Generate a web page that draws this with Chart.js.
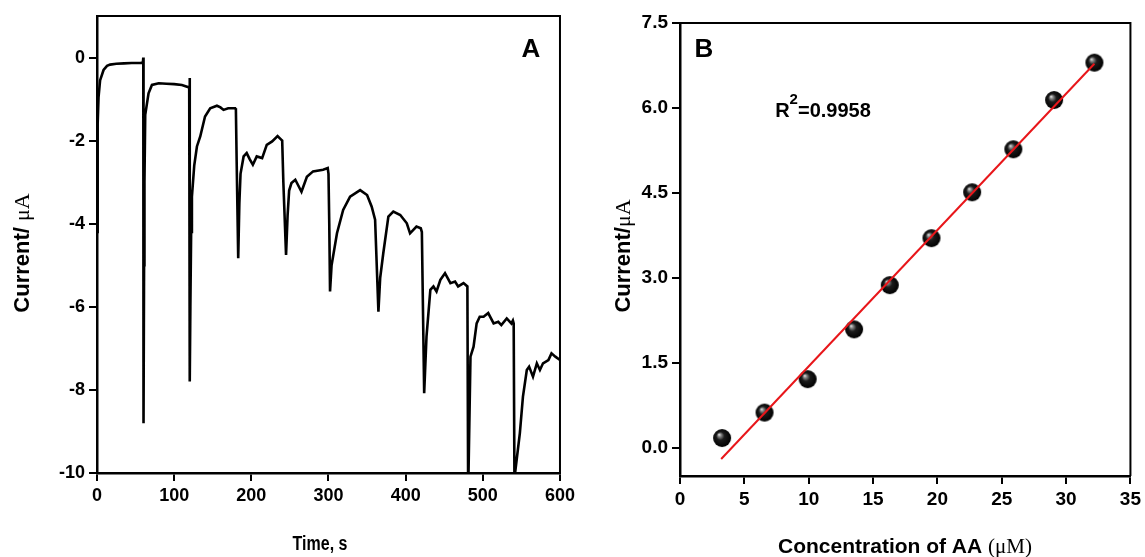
<!DOCTYPE html>
<html>
<head>
<meta charset="utf-8">
<script src="https://cdn.jsdelivr.net/npm/chart.js@4.4.1/dist/chart.umd.min.js"></script>
<style>
    html, body { margin: 0; padding: 0; background: #fff; overflow: hidden; }
    #wrap { position: relative; width: 1145px; height: 557px; overflow: hidden; }
    #chartA { position: absolute; left: 0; top: 0; }
    #chartB { position: absolute; left: 573px; top: 0; }
</style>
</head>
<body>
<div id="wrap">
    <canvas id="chartA" width="579" height="557"></canvas>
    <canvas id="chartB" width="572" height="557"></canvas>
</div>
<script>
// ===== Panel A: current vs time =====
const timeA = [0, 0.5, 1.2, 2, 4, 8.5, 13, 17, 25, 35, 45, 56, 59.5,
    60, 60.3, 61, 61.5, 62.5, 64, 66.8, 71.2, 80, 90, 100, 110, 119.5,
    120, 120.4, 121, 122, 123, 126, 129.5, 133.8, 140, 146.7, 155.4, 160, 164, 170, 179,
    180, 181, 183, 184.5, 186, 190, 194, 198, 202, 207, 214, 220, 227, 234, 239,
    240, 241.5, 245, 247, 249, 252, 257, 265, 272, 280, 293, 299,
    300, 301, 302, 304, 311, 319, 328, 341, 350, 356, 360.4,
    364.7, 367, 371, 377.6, 384, 393, 401.5, 405.7, 414, 419.6,
    421, 424, 427, 432, 436, 440, 445, 451, 458, 464, 468, 475, 480,
    481, 482, 484, 488, 492, 496, 501, 507, 514, 520, 524, 531, 537, 539,
    540, 541, 542, 548, 552, 557, 560, 565, 570, 574, 578, 585, 589, 594, 600];
const currentA = [-4.2, -2.6, -1.6, -0.95, -0.55, -0.3, -0.2, -0.17, -0.15, -0.14, -0.13, -0.13, -0.12,
    0.0, -8.8, -5.0, -3.0, -1.38, -1.2, -0.86, -0.66, -0.62, -0.63, -0.64, -0.66, -0.72,
    -0.49, -7.8, -6.0, -4.2, -3.35, -2.6, -2.14, -1.9, -1.42, -1.22, -1.16, -1.2, -1.26, -1.22, -1.22,
    -1.25, -2.5, -4.83, -3.5, -2.8, -2.38, -2.3, -2.45, -2.58, -2.38, -2.42, -2.1, -2.02, -1.89, -1.98,
    -2.0, -3.0, -4.75, -3.8, -3.2, -3.02, -2.94, -3.23, -2.87, -2.74, -2.7, -2.66,
    -2.8, -4.0, -5.63, -5.0, -4.23, -3.67, -3.35, -3.19, -3.31, -3.59, -3.9,
    -6.12, -5.3, -4.71, -3.83, -3.71, -3.79, -3.99, -4.23, -4.07, -4.11,
    -4.2, -8.08, -6.72, -5.59, -5.51, -5.63, -5.35, -5.19, -5.43, -5.39, -5.51, -5.43, -5.51,
    -10.5, -10.5, -7.2, -6.96, -6.4, -6.24, -6.24, -6.15, -6.4, -6.36, -6.44, -6.28, -6.4, -6.33,
    -6.4, -10.2, -9.97, -9.04, -8.16, -7.52, -7.44, -7.68, -7.36, -7.52, -7.36, -7.28, -7.12, -7.2, -7.28];
const xTicksA = [0, 100, 200, 300, 400, 500, 600];
const yTicksA = [0, -2, -4, -6, -8, -10];

// ===== Panel B: calibration =====
const concB = [3.27, 6.57, 9.92, 13.53, 16.3, 19.54, 22.7, 25.9, 29.07, 32.2];
const currB = [0.17, 0.62, 1.21, 2.09, 2.87, 3.70, 4.51, 5.27, 6.14, 6.80];
const fitX = [3.2, 32.2];
const fitY = [-0.2, 6.78];
const xTicksB = [0, 5, 10, 15, 20, 25, 30, 35];
const yTicksB = [0, 1.5, 3, 4.5, 6, 7.5];

const SANS = "'Liberation Sans', Arial, sans-serif";
const SERIF = "'Liberation Serif', 'Times New Roman', serif";

// sphere marker
function makeBall(r) {
    const c = document.createElement("canvas");
    c.width = r * 2 + 2;
    c.height = r * 2 + 2;
    const g = c.getContext("2d");
    const cx = r + 1, cy = r + 1;
    const grad = g.createRadialGradient(cx - r * 0.35, cy - r * 0.4, 0, cx, cy, r);
    grad.addColorStop(0, "#f4f4f4");
    grad.addColorStop(0.18, "#8a8a8a");
    grad.addColorStop(0.45, "#1c1c1c");
    grad.addColorStop(1, "#000");
    g.fillStyle = grad;
    g.beginPath();
    g.arc(cx, cy, r, 0, Math.PI * 2);
    g.fill();
    return c;
}

// draw a run of text pieces with different fonts (sx squeezes it sideways)
function drawParts(ctx, parts, x, y, rotate, sx) {
    ctx.save();
    ctx.translate(x, y);
    if (rotate) ctx.rotate(-Math.PI / 2);
    if (sx) ctx.scale(sx, 1);
    let total = 0;
    parts.forEach(p => { ctx.font = p.font; total += ctx.measureText(p.text).width; });
    let pos = -total / 2;
    ctx.fillStyle = "#000";
    ctx.textBaseline = "alphabetic";
    ctx.textAlign = "left";
    parts.forEach(p => {
        ctx.font = p.font;
        ctx.fillText(p.text, pos, p.dy || 0);
        pos += ctx.measureText(p.text).width;
    });
    ctx.restore();
}

const framePlugin = {
    id: "frame",
    afterDraw(chart, args, opts) {
        const ctx = chart.ctx;
        const a = chart.chartArea;
        ctx.save();
        ctx.strokeStyle = "#000";
        ctx.lineWidth = 2;
        ctx.beginPath();
        ctx.moveTo(a.left, a.top);
        ctx.lineTo(a.right, a.top);
        ctx.lineTo(a.right, a.bottom);
        ctx.stroke();
        ctx.restore();
        (opts.texts || []).forEach(t => drawParts(ctx, t.parts, t.x, t.y, t.rotate, t.sx));
    }
};

function axis(min, max, ticks, fmt, size, fontSize) {
    return {
        type: "linear",
        min: min,
        max: max,
        afterBuildTicks: s => { s.ticks = ticks.map(v => ({ value: v })); },
        afterFit: s => {
            if (s.isHorizontal()) s.height = size; else s.width = size;
        },
        border: { display: true, color: "#000", width: 2.5 },
        grid: { drawOnChartArea: false, drawTicks: true, tickLength: 8, color: "#000", lineWidth: 2 },
        ticks: {
            color: "#000",
            padding: 4,
            font: { family: SANS, size: fontSize, weight: "bold" },
            callback: fmt
        }
    };
}

Chart.register(framePlugin);

new Chart(document.getElementById("chartA"), {
    type: "scatter",
    data: {
        datasets: [{
            data: timeA.map((t, i) => ({ x: t, y: currentA[i] })),
            showLine: true,
            borderColor: "#000",
            borderWidth: 2.6,
            pointRadius: 0,
            tension: 0
        }]
    },
    options: {
        responsive: false,
        animation: false,
        layout: { padding: { top: 16, right: 19, left: 0, bottom: 0 } },
        plugins: {
            legend: { display: false },
            tooltip: { enabled: false },
            frame: {
                texts: [
                    { parts: [{ text: "A", font: "bold 26px " + SANS }], x: 531, y: 57 },
                    { parts: [{ text: "Time, s", font: "bold 20px " + SANS }], x: 320, y: 550, sx: 0.8 },
                    { parts: [{ text: "Current/ ", font: "bold 22px " + SANS }, { text: "\u03bcA", font: "22px " + SERIF }], x: 29, y: 253, rotate: true }
                ]
            }
        },
        scales: {
            x: axis(0, 600, xTicksA, v => v, 84, 18),
            y: axis(-10, 1, yTicksA, v => v, 97, 18)
        }
    }
});

new Chart(document.getElementById("chartB"), {
    type: "scatter",
    data: {
        datasets: [{
            data: fitX.map((x, i) => ({ x: x, y: fitY[i] })),
            showLine: true,
            borderColor: "#e8161a",
            borderWidth: 2,
            pointRadius: 0,
            order: 0
        }, {
            data: concB.map((x, i) => ({ x: x, y: currB[i] })),
            pointStyle: makeBall(9),
            pointRadius: 9,
            order: 1
        }]
    },
    options: {
        responsive: false,
        animation: false,
        layout: { padding: { top: 23, right: 12, left: 0, bottom: 0 } },
        plugins: {
            legend: { display: false },
            tooltip: { enabled: false },
            frame: {
                texts: [
                    { parts: [{ text: "B", font: "bold 26px " + SANS }], x: 131, y: 57 },
                    { parts: [{ text: "R", font: "bold 20px " + SANS }, { text: "2", font: "bold 15px " + SANS, dy: -13 }, { text: "=0.9958", font: "bold 20px " + SANS }], x: 250, y: 117 },
                    { parts: [{ text: "Concentration of AA ", font: "bold 21px " + SANS }, { text: "(\u03bcM)", font: "21px " + SERIF }], x: 332, y: 553 },
                    { parts: [{ text: "Current/", font: "bold 22px " + SANS }, { text: "\u03bcA", font: "22px " + SERIF }], x: 57, y: 256, rotate: true }
                ]
            }
        },
        scales: {
            x: axis(0, 35, xTicksB, v => v, 81, 19),
            y: axis(-0.5, 7.5, yTicksB, v => v.toFixed(1), 107, 19)
        }
    }
});
</script>
</body>
</html>
